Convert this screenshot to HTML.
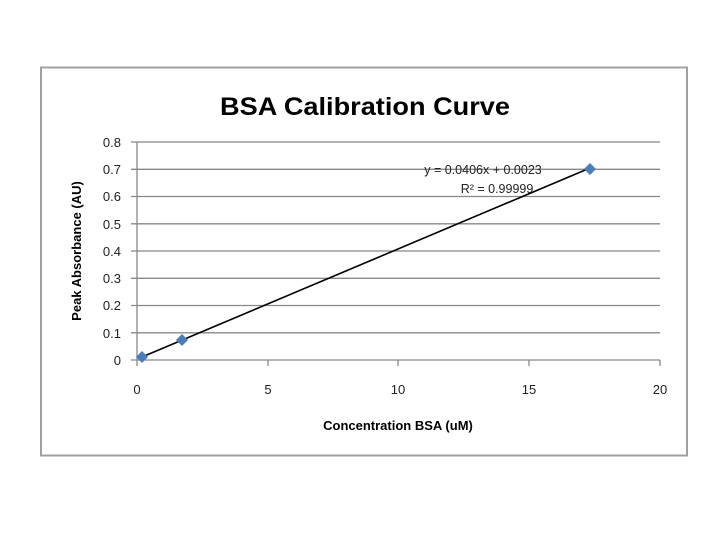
<!DOCTYPE html>
<html><head><style>body{margin:0;background:#fff;}</style></head><body>
<svg width="720" height="540" xmlns="http://www.w3.org/2000/svg" font-family="Liberation Sans, sans-serif">
<rect x="0" y="0" width="720" height="540" fill="#fff"/>
<rect x="41" y="67.5" width="646" height="388" fill="#fff" stroke="#a0a0a0" stroke-width="2"/>
<text x="365" y="115" text-anchor="middle" font-size="25" font-weight="bold" fill="#000" textLength="290" lengthAdjust="spacingAndGlyphs">BSA Calibration Curve</text>
<g stroke="#888" stroke-width="1.3">
<line x1="131" y1="142" x2="660" y2="142"/>
<line x1="131" y1="169.3" x2="660" y2="169.3"/>
<line x1="131" y1="196.5" x2="660" y2="196.5"/>
<line x1="131" y1="223.8" x2="660" y2="223.8"/>
<line x1="131" y1="251" x2="660" y2="251"/>
<line x1="131" y1="278.3" x2="660" y2="278.3"/>
<line x1="131" y1="305.5" x2="660" y2="305.5"/>
<line x1="131" y1="332.8" x2="660" y2="332.8"/>
<line x1="131" y1="360" x2="660" y2="360"/>
<line x1="137" y1="142" x2="137" y2="360"/>
<line x1="137" y1="360" x2="137" y2="366"/>
<line x1="268" y1="360" x2="268" y2="366"/>
<line x1="398" y1="360" x2="398" y2="366"/>
<line x1="529" y1="360" x2="529" y2="366"/>
<line x1="660" y1="360" x2="660" y2="366"/>
</g>
<g font-size="13" fill="#222" text-anchor="end">
<text x="121" y="147">0.8</text><text x="121" y="174">0.7</text><text x="121" y="201">0.6</text>
<text x="121" y="229">0.5</text><text x="121" y="256">0.4</text><text x="121" y="283">0.3</text>
<text x="121" y="310">0.2</text><text x="121" y="338">0.1</text><text x="121" y="365">0</text>
</g>
<g font-size="13" fill="#222" text-anchor="middle">
<text x="137" y="394">0</text><text x="268" y="394">5</text><text x="398" y="394">10</text>
<text x="529" y="394">15</text><text x="660" y="394">20</text>
</g>
<text x="398" y="430" text-anchor="middle" font-size="13" font-weight="bold" fill="#000">Concentration BSA (uM)</text>
<text transform="translate(81,251) rotate(-90)" text-anchor="middle" font-size="13" font-weight="bold" fill="#000">Peak Absorbance (AU)</text>
<line x1="142" y1="357" x2="590" y2="168" stroke="#000" stroke-width="1.6"/>
<g fill="#4a7ebb">
<path d="M142 351l6 6-6 6-6-6z"/>
<path d="M182 334l6 6-6 6-6-6z"/>
<path d="M590 163l6 6-6 6-6-6z"/>
</g>
<text x="483" y="174" text-anchor="middle" font-size="12.5" fill="#222">y = 0.0406x + 0.0023</text>
<text x="497" y="193" text-anchor="middle" font-size="12.5" fill="#222">R² = 0.99999</text>
</svg>
</body></html>
